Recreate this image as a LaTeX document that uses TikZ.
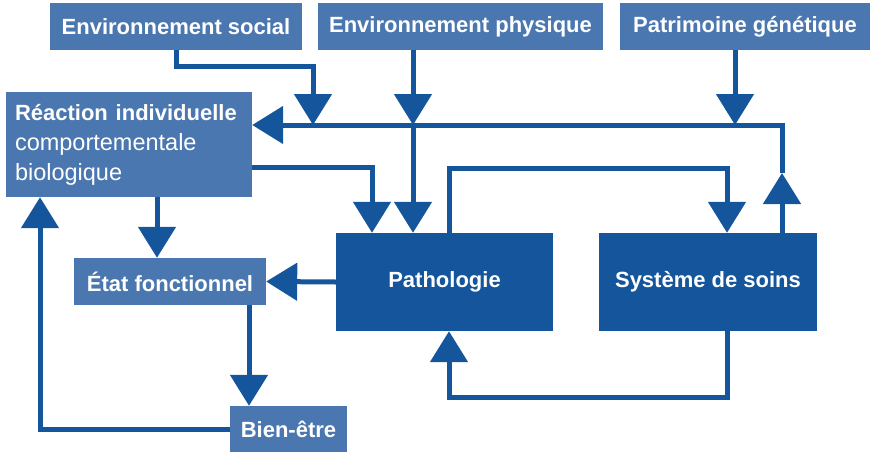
\documentclass[tikz,border=0pt]{standalone}
\usepackage{fontspec}
\setmainfont{Liberation Sans}
\usetikzlibrary{arrows.meta}
\definecolor{boxlight}{RGB}{74,119,175}
\definecolor{boxdark}{RGB}{20,85,155}
\begin{document}
\begin{tikzpicture}[x=1pt,y=-1pt,
  light/.style={fill=boxlight,text=white,inner sep=0pt,minimum height=47pt,
    font=\fontsize{22}{30}\selectfont\bfseries},
  dark/.style={fill=boxdark,text=white,inner sep=0pt,minimum width=218pt,minimum height=98pt,
    font=\fontsize{22}{30}\selectfont\bfseries},
  flow/.style={draw=boxdark,line width=5pt,-{Triangle[width=37pt,length=31pt]}}]
\useasboundingbox (0,0) rectangle (874,452);
% boxes
\node[light,minimum width=252pt] (social) at (176,26.5) {Environnement social};
\node[light,minimum width=285pt] (physique) at (460.5,26.5) {Environnement physique};
\node[light,minimum width=250pt] (genet) at (745,26.5) {Patrimoine génétique};
\node[light,minimum width=246pt,minimum height=105pt,text width=228pt,align=left,
  font=\fontsize{23.5}{30}\selectfont] (reaction) at (129,144.5)
  {{\fontsize{22}{30}\selectfont\bfseries Réaction individuelle}\\comportementale\\biologique};
\node[light,minimum width=192pt] (etat) at (170,281.5) {État fonctionnel};
\node[light,minimum width=117pt,minimum height=46pt] (bien) at (288.5,429) {Bien-être};
\node[dark,minimum width=217pt] (patho) at (444.5,282) {Pathologie};
\node[dark] (soins) at (708,282) {Système de soins};
% bends and joins
\coordinate (bus) at (782,125);
\coordinate (upmid) at (782,173);
\coordinate (ksoc) at (313,66);
\coordinate (jsoc) at (313,125);
\coordinate (jphy) at (413,125);
\coordinate (jgen) at (735,125);
\coordinate (kreac) at (372,167);
\coordinate (kloop1) at (449,168);
\coordinate (kloop2) at (727,168);
\coordinate (kb1) at (727,397);
\coordinate (kb2) at (449,397);
\coordinate (kd) at (157,220);
\coordinate (ke) at (249,350);
\coordinate (kl) at (40,433);
% connectors
\draw[flow] (soins.north -| upmid) -- (upmid);
\draw[flow] (upmid) -- (bus) -- (bus -| reaction.east);
\draw[flow] (social.south) |- (ksoc) -- (jsoc);
\draw[flow] (physique.south -| jphy) -- (jphy);
\draw[flow] (jphy) -- (jphy |- patho.north);
\draw[flow] (genet.south -| jgen) -- (jgen);
\draw[flow] (kreac -| reaction.east) -- (kreac) -- (kreac |- patho.north);
\draw[flow] (patho.north -| kloop1) |- (kloop2) -- (kloop2 |- soins.north);
\draw[flow] (soins.south -| kb1) -- (kb1) -- (kb2) -- (kb2 |- patho.south);
\draw[flow] (reaction.south -| kd) -- (kd |- etat.north);
\draw[flow] (patho.west) -- (etat.east);
\draw[flow] (etat.south -| ke) -- (ke |- bien.north);
\draw[flow] (bien.west) -- (bien.west -| kl) -- (kl |- reaction.south);
\end{tikzpicture}
\end{document}
